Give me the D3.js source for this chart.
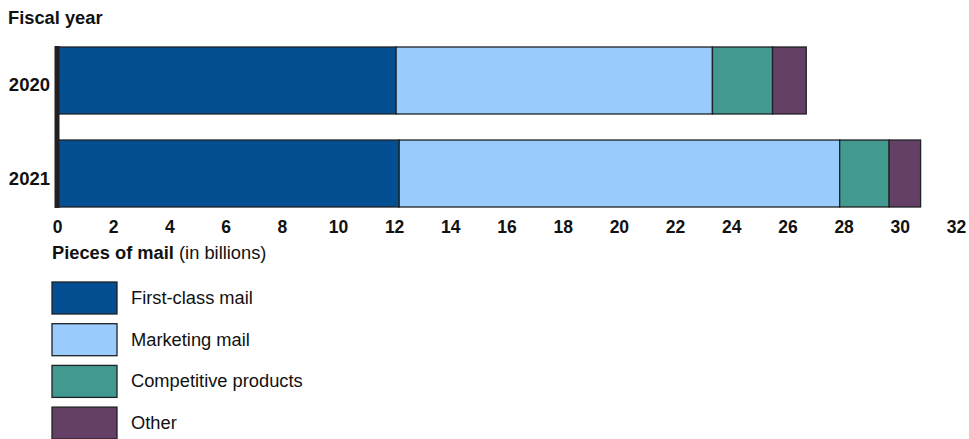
<!DOCTYPE html>
<html><head><meta charset="utf-8">
<script src="https://cdn.jsdelivr.net/npm/d3@7"></script>
<style>body{margin:0;background:#fff;}svg{display:block;font-family:"Liberation Sans",Arial,sans-serif;}</style>
</head><body>
<svg id="chart" width="969" height="439"></svg>
<script>
const years = ["2020", "2021"];
const seriesNames = ["First-class mail", "Marketing mail", "Competitive products", "Other"];
const firstClass = [12.07, 12.18];
const marketing = [11.26, 15.68];
const competitive = [2.14, 1.76];
const other = [1.20, 1.12];
const xTicks = [0,2,4,6,8,10,12,14,16,18,20,22,24,26,28,30,32];
const colors = ["#044f92", "#9acbfd", "#429990", "#643f66"];

const seriesValues = [firstClass, marketing, competitive, other];
const rows = years.map((y, i) => {
  const r = {year: y};
  seriesNames.forEach((s, j) => r[s] = seriesValues[j][i]);
  return r;
});
const stacked = d3.stack().keys(seriesNames)(rows);

const svg = d3.select("#chart");
const x = d3.scaleLinear().domain([0, 32]).range([57, 956]);
const y = d3.scaleBand().domain(years).range([47, 207]).paddingInner(0.28).paddingOuter(0);

// Fiscal year label
svg.append("text").attr("x", 8).attr("y", 24).attr("font-weight", "bold").attr("font-size", 18.3).attr("fill", "#111").text("Fiscal year");

// bars
svg.append("g").selectAll("g").data(stacked).join("g")
  .attr("fill", (d, i) => colors[i])
  .selectAll("rect").data(d => d).join("rect")
  .attr("x", d => x(d[0]))
  .attr("width", d => x(d[1]) - x(d[0]))
  .attr("y", d => y(d.data.year))
  .attr("height", y.bandwidth())
  .attr("stroke", "#1f2124").attr("stroke-width", 1.3);

// y labels
svg.append("g").selectAll("text").data(years).join("text")
  .attr("x", 50).attr("y", d => y(d) + y.bandwidth() / 2 + 11)
  .attr("text-anchor", "end").attr("font-weight", "bold").attr("font-size", 18.5).attr("fill", "#111")
  .text(d => d);

// vertical axis line
svg.append("line").attr("x1", x(0)).attr("x2", x(0)).attr("y1", 46).attr("y2", 208)
  .attr("stroke", "#231f20").attr("stroke-width", 5);

// x axis tick labels
const xAxis = d3.axisBottom(x).tickValues(xTicks).tickSize(0).tickPadding(0).tickFormat(d3.format("d"));
const gx = svg.append("g").attr("transform", "translate(0,221)").call(xAxis);
gx.select(".domain").remove();
gx.selectAll("text").attr("font-size", 17.5).attr("font-weight", "bold").attr("fill", "#111")
  .attr("font-family", "Liberation Sans, Arial, sans-serif");

// axis title
const t = svg.append("text").attr("x", 52).attr("y", 259).attr("font-size", 18.3).attr("fill", "#111");
t.append("tspan").attr("font-weight", "bold").text("Pieces of mail");
t.append("tspan").text(" (in billions)");

// legend
const lg = svg.append("g").selectAll("g").data(seriesNames).join("g")
  .attr("transform", (d, i) => `translate(52,${282 + i * 41.7})`);
lg.append("rect").attr("width", 65).attr("height", 32)
  .attr("fill", (d, i) => colors[i]).attr("stroke", "#1f2124").attr("stroke-width", 1.3);
lg.append("text").attr("x", 79).attr("y", 22).attr("font-size", 18.3).attr("fill", "#111").text(d => d);
</script>
</body></html>
